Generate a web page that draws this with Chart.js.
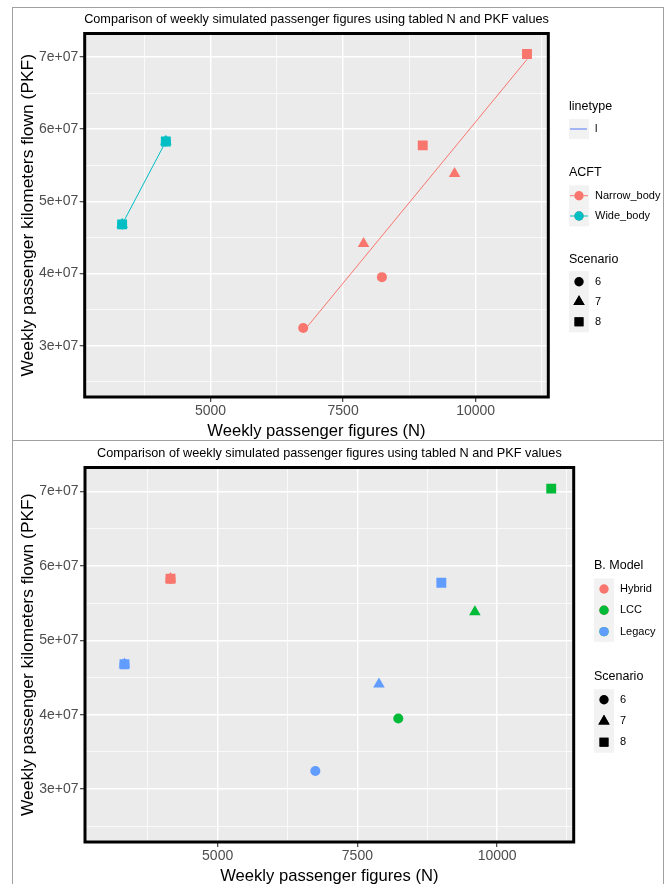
<!DOCTYPE html>
<html>
<head>
<meta charset="utf-8">
<script src="https://cdn.jsdelivr.net/npm/chart.js@4.4.1/dist/chart.umd.min.js"></script>
<style>
  body { margin: 0; background: #fff; width: 667px; height: 884px; overflow: hidden; position: relative; }
  .box { position: absolute; left: 12px; width: 650px; border: 1px solid #a0a0a0; }
  #box1 { top: 7px; height: 432px; }
  #box2 { top: 440px; height: 460px; border-top: none; }
  canvas { position: absolute; left: 0; }
  #c1 { top: 0; }
  #c2 { top: 440px; }
</style>
</head>
<body>
<div class="box" id="box1"></div>
<div class="box" id="box2"></div>
<canvas id="c1" width="667" height="440"></canvas>
<canvas id="c2" width="667" height="444"></canvas>
<script>
const FONT = "'Liberation Sans', Arial, Helvetica, sans-serif";

// --- data (N per week, PKF per week) ---
const scenarios = ['6', '7', '8'];
const legacyNarrowN   = [6748, 7886, 9002];
const legacyNarrowPKF = [3.245e7, 4.412e7, 5.774e7];
const lccN   = [8232, 9602, 10968];
const lccPKF = [3.95e7, 5.382e7, 7.04e7];
const hybridN   = [4157, 4157, 4157];
const hybridPKF = [5.828e7, 5.828e7, 5.828e7];
const legacyWideN   = [3333, 3333, 3333];
const legacyWidePKF = [4.68e7, 4.68e7, 4.68e7];

// lm fit lines per aircraft type (end points)
const narrowFitN   = [6748, 10968];
const narrowFitPKF = [3.195e7, 6.965e7];
const wideFitN   = [3333, 4157];
const wideFitPKF = [4.68e7, 5.828e7];

// axes
const xMajorTicks = [5000, 7500, 10000];
const xTickLabels = ['5000', '7500', '10000'];
const xMinorTicks = [3750, 6250, 8750, 11250];
const yMajorTicks = [3e7, 4e7, 5e7, 6e7, 7e7];
const yTickLabels = ['3e+07', '4e+07', '5e+07', '6e+07', '7e+07'];
const yMinorTicks = [2.5e7, 3.5e7, 4.5e7, 5.5e7, 6.5e7];
const xRange = [2627, 11370];
const yRange = [2.29e7, 7.324e7];

const TITLE = 'Comparison of weekly simulated passenger figures using tabled N and PKF values';
const X_TITLE = 'Weekly passenger figures (N)';
const Y_TITLE = 'Weekly passenger kilometers flown (PKF)';

const hue2 = ['#F8766D', '#00BFC4'];
const hue3 = ['#F8766D', '#00BA38', '#619CFF'];
const shapes = ['circle', 'triangle', 'rect'];
const radii = [5, 6.7, 7];

const pts = (ns, ps, i) => ({ x: ns[i], y: ps[i] });
const line = (ns, ps) => ns.map((n, i) => ({ x: n, y: ps[i] }));

function pointSet(data, color, i) {
  return {
    data, showLine: false,
    pointStyle: shapes[i], pointRadius: radii[i], pointHoverRadius: radii[i],
    pointBackgroundColor: color, pointBorderWidth: 0,
    order: 2 - i   // squares end up on top
  };
}
function lineSet(data, color) {
  return { data, showLine: true, borderColor: color, borderWidth: 1, pointRadius: 0, order: 10 };
}

function drawText(ctx, s, x, y, size, color, align, rot) {
  ctx.save();
  ctx.font = size + 'px ' + FONT;
  ctx.fillStyle = color;
  ctx.textAlign = align || 'left';
  ctx.textBaseline = 'middle';
  ctx.translate(x, y);
  if (rot) ctx.rotate(rot);
  ctx.fillText(s, 0, 0);
  ctx.restore();
}

function shape(ctx, i, x, y, color, r) {
  Chart.helpers.drawPoint(ctx, { pointStyle: shapes[i], radius: r, rotation: 0, borderWidth: 0 }, x, y);
  ctx.fillStyle = color;
  ctx.fill();
}

function keyBg(ctx, x, y, w, h) {
  ctx.fillStyle = '#F2F2F2';
  ctx.fillRect(x, y, w, h);
}

const legendRadii = [4.7, 6.5, 6.3];

function scenarioLegend(ctx, x, titleY, rowsY, labelX) {
  drawText(ctx, 'Scenario', x, titleY, 12.5, '#000');
  keyBg(ctx, x, rowsY[0] - 10.5, 20, rowsY[2] - rowsY[0] + 21);
  scenarios.forEach((s, i) => {
    ctx.beginPath();
    shape(ctx, i, x + 10, rowsY[i], '#000', legendRadii[i]);
    drawText(ctx, s, labelX, rowsY[i], 11, '#000');
  });
}

function makeChart(id, area, datasets, titleY, xTitleY, legend) {
  const canvas = document.getElementById(id);
  const W = canvas.width, H = canvas.height;
  const isMajorX = v => xMajorTicks.includes(v);
  const isMajorY = v => yMajorTicks.includes(v);

  const decor = {
    id: 'decor',
    beforeDraw(chart) {
      const { ctx, chartArea: a } = chart;
      ctx.save();
      ctx.fillStyle = '#EBEBEB';
      ctx.fillRect(a.left, a.top, a.right - a.left, a.bottom - a.top);
      ctx.restore();
    },
    afterDatasetsDraw(chart) {
      const { ctx, chartArea: a } = chart;
      ctx.save();
      ctx.strokeStyle = '#000';
      ctx.lineWidth = 3;
      ctx.strokeRect(a.left, a.top, a.right - a.left, a.bottom - a.top);
      ctx.restore();
    },
    afterDraw(chart) {
      const { ctx, chartArea: a } = chart;
      const cx = (a.left + a.right) / 2, cy = (a.top + a.bottom) / 2;
      drawText(ctx, TITLE, cx, titleY, 12.7, '#000', 'center');
      drawText(ctx, X_TITLE, cx, xTitleY, 16.6, '#000', 'center');
      drawText(ctx, Y_TITLE, 28, cy, 17.4, '#000', 'center', -Math.PI / 2);
      ctx.save();
      legend(ctx);
      ctx.restore();
    }
  };

  return new Chart(canvas, {
    type: 'scatter',
    data: { datasets },
    options: {
      responsive: false,
      animation: false,
      events: [],
      layout: { padding: { left: 0, top: area.top, right: W - area.right, bottom: 0 } },
      plugins: { legend: { display: false }, tooltip: { enabled: false }, title: { display: false } },
      scales: {
        x: {
          type: 'linear', min: xRange[0], max: xRange[1],
          afterBuildTicks: s => { s.ticks = xMinorTicks.concat(xMajorTicks).sort((a, b) => a - b).map(v => ({ value: v })); },
          afterFit: s => { s.height = H - area.bottom; },
          border: { display: false },
          grid: {
            color: '#FFFFFF',
            lineWidth: c => isMajorX(c.tick.value) ? 1.4 : 0.7,
            drawTicks: true, tickLength: 5, tickWidth: 1.1,
            tickColor: c => isMajorX(c.tick.value) ? '#333333' : 'rgba(0,0,0,0)'
          },
          ticks: {
            autoSkip: false, maxRotation: 0, padding: 1,
            color: '#4D4D4D', font: { family: FONT, size: 14 },
            callback: v => isMajorX(v) ? xTickLabels[xMajorTicks.indexOf(v)] : ''
          }
        },
        y: {
          type: 'linear', min: yRange[0], max: yRange[1],
          afterBuildTicks: s => { s.ticks = yMinorTicks.concat(yMajorTicks).sort((a, b) => a - b).map(v => ({ value: v })); },
          afterFit: s => { s.width = area.left; },
          border: { display: false },
          grid: {
            color: '#FFFFFF',
            lineWidth: c => isMajorY(c.tick.value) ? 1.4 : 0.7,
            drawTicks: true, tickLength: 5, tickWidth: 1.1,
            tickColor: c => isMajorY(c.tick.value) ? '#333333' : 'rgba(0,0,0,0)'
          },
          ticks: {
            autoSkip: false, padding: 1.5,
            color: '#4D4D4D', font: { family: FONT, size: 14 },
            callback: v => isMajorY(v) ? yTickLabels[yMajorTicks.indexOf(v)] : ''
          }
        }
      }
    },
    plugins: [decor]
  });
}

// ---- top chart: colour = ACFT, shape = Scenario, with lm lines ----
const acftSets = [lineSet(line(narrowFitN, narrowFitPKF), hue2[0]), lineSet(line(wideFitN, wideFitPKF), hue2[1])];
scenarios.forEach((s, i) => {
  acftSets.push(pointSet([pts(legacyNarrowN, legacyNarrowPKF, i), pts(lccN, lccPKF, i)], hue2[0], i));
  acftSets.push(pointSet([pts(hybridN, hybridPKF, i), pts(legacyWideN, legacyWidePKF, i)], hue2[1], i));
});

makeChart('c1', { left: 84.7, right: 548.3, top: 33.5, bottom: 397 }, acftSets, 19.3, 431.5, ctx => {
  const x = 569, lx = 595;
  drawText(ctx, 'linetype', x, 106.7, 12.5, '#000');
  keyBg(ctx, x, 119, 20, 20);
  ctx.strokeStyle = '#6F8DF2'; ctx.lineWidth = 1.2;
  ctx.beginPath(); ctx.moveTo(x + 1, 129); ctx.lineTo(x + 18, 129); ctx.stroke();
  drawText(ctx, 'l', lx, 129, 11, '#000');

  drawText(ctx, 'ACFT', x, 172.7, 12.5, '#000');
  keyBg(ctx, x, 185.3, 20, 41);
  ['Narrow_body', 'Wide_body'].forEach((lab, k) => {
    const y = 195.7 + k * 20.3;
    ctx.strokeStyle = hue2[k]; ctx.lineWidth = 1;
    ctx.beginPath(); ctx.moveTo(x + 1, y); ctx.lineTo(x + 19, y); ctx.stroke();
    ctx.beginPath(); shape(ctx, 0, x + 10, y, hue2[k], 4.7);
    drawText(ctx, lab, lx, y, 11, '#000');
  });

  scenarioLegend(ctx, x, 259.3, [281.7, 301.8, 321.8], lx);
});

// ---- bottom chart: colour = business model, shape = Scenario ----
const modelSets = [];
scenarios.forEach((s, i) => {
  modelSets.push(pointSet([pts(hybridN, hybridPKF, i)], hue3[0], i));
  modelSets.push(pointSet([pts(lccN, lccPKF, i)], hue3[1], i));
  modelSets.push(pointSet([pts(legacyNarrowN, legacyNarrowPKF, i), pts(legacyWideN, legacyWidePKF, i)], hue3[2], i));
});

makeChart('c2', { left: 85, right: 573.7, top: 27.5, bottom: 402 }, modelSets, 13.3, 436.5, ctx => {
  const x = 594, lx = 620;
  drawText(ctx, 'B. Model', x, 125.5, 12.5, '#000');
  keyBg(ctx, x, 138.3, 20, 63.5);
  ['Hybrid', 'LCC', 'Legacy'].forEach((lab, k) => {
    const y = 149 + k * 21.3;
    ctx.beginPath(); shape(ctx, 0, x + 10, y, hue3[k], 4.7);
    drawText(ctx, lab, lx, y, 11, '#000');
  });
  scenarioLegend(ctx, x, 236.7, [259.7, 281.2, 302.2], lx);
});
</script>
</body>
</html>
